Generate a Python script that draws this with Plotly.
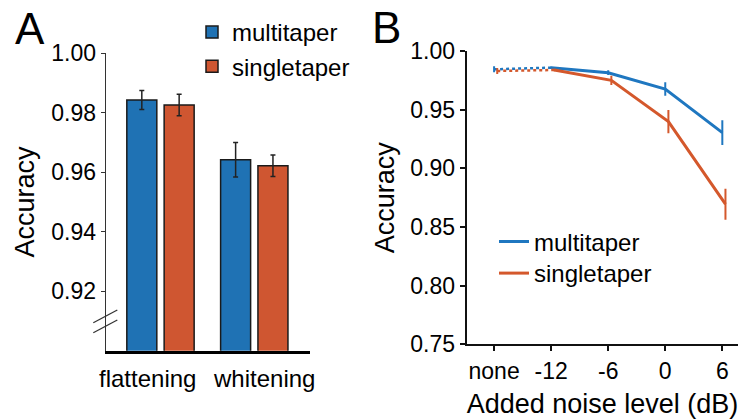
import plotly.graph_objects as go

# ---------------- data ----------------
categories_A = ["flattening", "whitening"]
multi_A = [0.9843, 0.9642]
multi_A_err = [0.0032, 0.0058]
single_A = [0.9826, 0.9622]
single_A_err = [0.0036, 0.0036]

noise_labels = ["none", "-12", "-6", "0", "6"]
multi_B = [0.9844, 0.9858, 0.9815, 0.9676, 0.9304]
multi_B_err = [0.0025, 0.0010, 0.0020, 0.0057, 0.0106]
single_B = [0.9830, 0.9838, 0.9750, 0.9398, 0.8694]
single_B_err = [0.0025, 0.0010, 0.0040, 0.0100, 0.0132]

# ---------------- style ----------------
W, H = 739, 419
FONT = "Liberation Sans, Arial, sans-serif"
BLUE_BAR, RED_BAR = "#1f72b4", "#cf5631"
BLUE_LINE, RED_LINE = "#1f77c0", "#d4582c"
DODGE = 0.055  # small horizontal dodge of the singletaper series in B
CAT_SHIFT = [-13, 9.5]  # label nudges (px) for panel A categories


def px(x):
    return x / W


def py(y):
    return 1 - y / H


fig = go.Figure()

# ---- panel A: bars ----
for name, vals, errs, col, grp in [
    ("multitaper", multi_A, multi_A_err, BLUE_BAR, "a1"),
    ("singletaper", single_A, single_A_err, RED_BAR, "a2"),
]:
    fig.add_trace(go.Bar(
        x=categories_A, y=vals, name=name, xaxis="x", yaxis="y",
        marker=dict(color=col, line=dict(color="#1a1a1a", width=1.5)),
        error_y=dict(type="data", array=errs, color="#222222", thickness=1.5, width=2.5),
        legend="legend", legendgroup=grp,
    ))

# ---- panel B: lines ----
idx = list(range(len(noise_labels)))
for name, vals, errs, col, off, leg in [
    ("multitaper", multi_B, multi_B_err, BLUE_LINE, 0.0, "legend2"),
    ("singletaper", single_B, single_B_err, RED_LINE, DODGE, "legend3"),
]:
    xs = [i + off for i in idx]
    # dotted segment none -> -12
    fig.add_trace(go.Scatter(
        x=xs[:2], y=vals[:2], mode="lines", xaxis="x2", yaxis="y2",
        line=dict(color=col, width=2.5, dash="dot"), showlegend=False,
        error_y=dict(type="data", array=[errs[0], 0], color=col, thickness=2, width=0),
    ))
    # solid segment -12 -> 6
    fig.add_trace(go.Scatter(
        x=xs[1:], y=vals[1:], mode="lines", name=name, xaxis="x2", yaxis="y2",
        line=dict(color=col, width=3),
        error_y=dict(type="data", array=errs[1:], color=col, thickness=2, width=0),
        legend=leg,
    ))

tickfont = dict(family=FONT, size=23, color="black")
titlefont = dict(family=FONT, size=27, color="black")
legfont = dict(family=FONT, size=24, color="black")

annotations = [
    dict(text="A", x=px(13), y=py(2), xref="paper", yref="paper",
         xanchor="left", yanchor="top", showarrow=False,
         font=dict(family=FONT, size=44, color="black")),
    dict(text="B", x=px(370), y=py(1), xref="paper", yref="paper",
         xanchor="left", yanchor="top", showarrow=False,
         font=dict(family=FONT, size=44, color="black")),
]
for i, (cat, sh) in enumerate(zip(categories_A, CAT_SHIFT)):
    annotations.append(dict(
        text=cat, x=i, y=py(378), xref="x", yref="paper", xshift=sh,
        xanchor="center", yanchor="middle", showarrow=False,
        font=dict(family=FONT, size=24, color="black"),
    ))

fig.update_layout(
    width=W, height=H,
    margin=dict(l=0, r=0, t=0, b=0, autoexpand=False),
    paper_bgcolor="white", plot_bgcolor="white",
    font=dict(family=FONT, color="black"),
    barmode="group", bargap=0.204, bargroupgap=0.196,
    xaxis=dict(
        domain=[px(105.7), px(310)], range=[-0.584, 1.594],
        showline=True, linecolor="black", linewidth=2.5,
        ticks="", showgrid=False, zeroline=False, showticklabels=False,
        anchor="y", automargin=False,
    ),
    yaxis=dict(
        domain=[py(350.7), py(53.3)], range=[0.90, 1.00],
        tickvals=[0.92, 0.94, 0.96, 0.98, 1.00], tickformat=".2f",
        showline=True, linecolor="#333333", linewidth=1.2,
        ticks="outside", ticklen=4, tickcolor="#333333", tickwidth=1.2,
        showgrid=False, zeroline=False, tickfont=tickfont,
        title=dict(text="Accuracy", font=titlefont, standoff=8),
        anchor="x", automargin=False,
    ),
    xaxis2=dict(
        domain=[px(466.7), px(738.3)], range=[-0.48, 4.28],
        tickvals=idx, ticktext=noise_labels, tickangle=0,
        showline=True, linecolor="#111111", linewidth=2,
        ticks="outside", ticklen=5, tickcolor="#111111", tickwidth=1.5,
        showgrid=False, zeroline=False, tickfont=tickfont,
        title=dict(text="Added noise level (dB)", font=titlefont, standoff=11),
        anchor="y2", automargin=False,
    ),
    yaxis2=dict(
        domain=[py(344.3), py(51)], range=[0.75, 1.00],
        tickvals=[0.75, 0.80, 0.85, 0.90, 0.95, 1.00], tickformat=".2f",
        showline=True, linecolor="#111111", linewidth=2,
        ticks="outside", ticklen=5, tickcolor="#111111", tickwidth=1.5,
        showgrid=False, zeroline=False, tickfont=tickfont,
        title=dict(text="Accuracy", font=titlefont, standoff=8),
        anchor="x2", automargin=False,
    ),
    legend=dict(
        x=px(192), y=py(10), xanchor="left", yanchor="top",
        font=legfont, bgcolor="rgba(0,0,0,0)",
        tracegroupgap=0, traceorder="grouped",
    ),
    legend2=dict(
        x=px(494), y=py(242), xanchor="left", yanchor="middle",
        font=legfont, bgcolor="rgba(0,0,0,0)",
    ),
    legend3=dict(
        x=px(494), y=py(273.5), xanchor="left", yanchor="middle",
        font=legfont, bgcolor="rgba(0,0,0,0)",
    ),
    annotations=annotations,
    shapes=[
        dict(type="line", xref="paper", yref="paper",
             x0=px(93.3), y0=py(322.7), x1=px(117.3), y1=py(310),
             line=dict(color="#333333", width=1.3)),
        dict(type="line", xref="paper", yref="paper",
             x0=px(93.3), y0=py(332.7), x1=px(117.3), y1=py(320),
             line=dict(color="#333333", width=1.3)),
    ],
)

fig.write_html("out.html", config={"displayModeBar": False},
               post_script="document.body.style.margin='0';")
